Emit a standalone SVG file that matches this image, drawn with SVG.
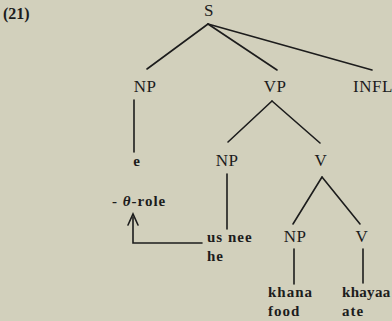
<svg xmlns="http://www.w3.org/2000/svg" width="392" height="321" viewBox="0 0 392 321">
<style>
text{font-family:"Liberation Serif","DejaVu Serif",serif;fill:#1c1c1c}
.cat{font-size:17px;letter-spacing:0.5px}
.w{font-size:15px;letter-spacing:1px;font-weight:bold}
.m{text-anchor:middle}
.ln{stroke:#1c1c1c;stroke-width:1.6;fill:none;stroke-linecap:round}
</style>
<rect width="392" height="321" fill="#d2d0bc"/>
<text x="3" y="19" font-size="16" font-weight="bold">(21)</text>
<g id="connectors" class="ln">
<line x1="208" y1="24" x2="147" y2="69"/>
<line x1="208" y1="24" x2="277" y2="70"/>
<line x1="208" y1="24" x2="372" y2="70"/>
<line x1="134" y1="100" x2="134" y2="152"/>
<line x1="272" y1="101" x2="228" y2="142"/>
<line x1="272" y1="101" x2="320" y2="143"/>
<line x1="227" y1="174" x2="227" y2="229"/>
<line x1="322" y1="177" x2="293" y2="224"/>
<line x1="322" y1="177" x2="360" y2="224"/>
<line x1="294" y1="249" x2="294" y2="284"/>
<line x1="363" y1="249" x2="363" y2="283"/>
<path d="M202,243 H133 V217"/>
<path d="M128,225 L133,214 L138,225" stroke-linejoin="miter"/>
</g>
<g id="S"><text class="cat m" x="209" y="16">S</text></g>
<g id="NP1"><text class="cat m" x="145" y="92">NP</text></g>
<g id="VP"><text class="cat m" x="275" y="92">VP</text></g>
<g id="INFL"><text class="cat" x="353" y="92">INFL</text></g>
<g id="e"><text class="w m" x="137" y="166">e</text></g>
<g id="theta"><text class="w" x="112" y="206">- <tspan font-style="italic">θ</tspan>-role</text></g>
<g id="NP2"><text class="cat m" x="227" y="166">NP</text></g>
<g id="V1"><text class="cat m" x="321" y="166">V</text></g>
<g id="usnee"><text class="w" x="207" y="242">us nee</text><text class="w" x="207" y="261">he</text></g>
<g id="NP3"><text class="cat m" x="295" y="242">NP</text></g>
<g id="V2"><text class="cat m" x="362" y="242">V</text></g>
<g id="khana"><text class="w" x="268" y="297">khana</text><text class="w" x="268" y="316">food</text></g>
<g id="khayaa"><text class="w" x="342" y="297" style="letter-spacing:0.3px">khayaa</text><text class="w" x="342" y="316">ate</text></g>
</svg>
